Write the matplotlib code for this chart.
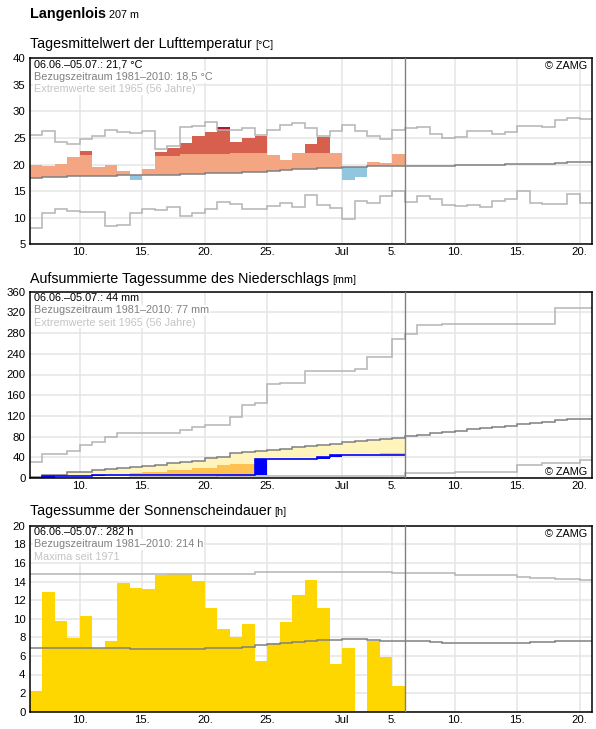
import numpy as np
import matplotlib
matplotlib.use("Agg")
import matplotlib.pyplot as plt

plt.rcParams['font.family'] = ['Liberation Sans', 'DejaVu Sans']

W, H = 596, 729

# days counted from 1 June (31 = 1 July)
days_obs = np.arange(6, 36)     # 06.06. - 05.07.
days_all = np.arange(6, 51)     # 06.06. - 20.07.
tick_days = [10, 15, 20, 25, 31, 35, 40, 45, 50]
tick_labels = ['10.', '15.', '20.', '25.', 'Jul', '5.', '10.', '15.', '20.']
today = 36

# --- temperature (degC)
temp_obs = [19.9, 19.7, 20.1, 21.5, 22.6, 19.6, 19.9, 18.75, 17.1, 19.1,
            22.3, 23.1, 24.06, 25.4, 26.1, 27.07, 24.25, 25.0, 25.4, 21.86,
            20.9, 22.18, 23.9, 25.2, 22.1, 17.1, 17.7, 20.5, 20.24, 21.9]
temp_upper = [21.4, 21.5, 21.5, 21.6, 21.8, 21.7, 21.6, 21.6, 21.6, 21.6,
              21.6, 21.6, 21.9, 21.9, 21.9, 21.9, 22.1, 22.1, 22.1, 22.2,
              22.2, 22.2, 22.2, 22.2, 22.3, 22.3, 22.4, 22.4, 22.5, 22.5]
temp_mean = [17.5, 17.6, 17.7, 17.8, 17.85, 17.9, 17.9, 17.95, 17.95, 18.0,
             18.0, 18.0, 18.15, 18.2, 18.35, 18.35, 18.4, 18.55, 18.65, 18.8,
             18.9, 19.1, 19.25, 19.35, 19.45, 19.55, 19.6, 19.65, 19.7, 19.7,
             19.75, 19.75, 19.8, 19.8, 19.85, 19.9, 19.95, 20.0, 20.05, 20.1,
             20.2, 20.2, 20.3, 20.4, 20.4]
temp_max = [25.5, 26.4, 24.25, 23.8, 24.75, 25.3, 26.6, 26.1, 25.9, 26.3,
            22.9, 23.5, 27.0, 27.2, 28.1, 26.6, 26.5, 26.9, 25.5, 26.6,
            27.5, 27.8, 26.9, 25.4, 26.4, 27.5, 26.3, 25.4, 24.8, 26.6,
            26.8, 27.1, 25.7, 25.0, 25.1, 26.4, 26.4, 25.7, 26.1, 27.2,
            27.2, 27.0, 28.3, 28.7, 28.5]
temp_min = [8.0, 10.8, 11.7, 11.2, 11.0, 11.0, 8.4, 8.7, 10.8, 11.6,
            11.4, 12.1, 10.4, 10.8, 11.6, 12.9, 12.5, 11.6, 11.6, 12.3,
            12.7, 12.0, 14.2, 12.4, 11.8, 9.7, 13.2, 12.7, 14.1, 15.0,
            12.9, 14.0, 13.5, 12.4, 12.3, 12.4, 12.1, 13.2, 13.6, 15.0,
            12.8, 12.5, 12.5, 14.4, 12.7]

# --- precipitation, accumulated (mm)
prec_obs = [0.5, 3, 3, 3, 3, 5, 6.5, 6.5, 6.5, 6.5,
            6.5, 6.5, 6.5, 6.5, 6.5, 6.5, 6.5, 6.5, 36.5, 36.5,
            36.5, 36.5, 36.5, 40.3, 44, 44, 44, 44, 44, 44]
prec_low = [0.3, 1, 1.5, 2, 2.5, 3, 4, 5, 10, 12,
            12.5, 15, 15.5, 18.5, 20, 24.7, 27.3, 27.3, 29, 30,
            31, 33, 35, 37, 38, 40, 42, 43, 48, 48]
prec_mean = [1.5, 6.5, 6.5, 11, 11, 15, 17, 19.5, 21.5, 24,
             26, 28.5, 30.5, 33, 37.7, 40.3, 47.4, 50.6, 52.6, 54.5,
             56.5, 59, 62, 64, 66.5, 69, 71.5, 74, 76, 77.5,
             81.3, 83.9, 86.5, 89.1, 91.7, 94.3, 96.3, 98.9, 100.8, 103.4,
             106, 108.6, 111.2, 113.2, 114.5]
prec_max = [31, 46.8, 46.8, 52.7, 63, 68.9, 78.7, 86.5, 86.5, 86.5,
            86.5, 86.5, 93.7, 98.9, 102.8, 102.8, 118.4, 140.5, 145, 180.8,
            184, 184, 206.8, 206.8, 206.8, 206.8, 210.7, 234, 234, 269,
            279, 295, 295, 297, 297, 297, 297, 297, 297, 297,
            297, 297, 328, 328, 328]
prec_min = [0, 0, 0, 0, 0, 0, 0, 0, 1.3, 1.3,
            1.3, 1.3, 1.3, 1.3, 1.3, 3, 3, 3, 3, 3,
            3, 3, 3, 3, 3, 3, 3, 3, 3, 3,
            9.8, 9.8, 9.8, 9.8, 11.7, 11.7, 11.7, 11.7, 11.7, 26,
            26, 29, 29, 29, 35]

# --- sunshine duration (h)
sun_obs = [2.2, 12.9, 9.8, 7.96, 10.25, 6.9, 7.57, 13.8, 13.25, 13.14,
           14.7, 14.8, 14.8, 14.1, 11.2, 8.86, 8.0, 9.4, 5.4, 7.4,
           9.6, 12.6, 14.2, 11.2, 5.1, 6.8, 0, 7.57, 5.9, 2.8]
sun_mean = [6.9, 6.9, 6.9, 6.9, 6.9, 6.9, 6.8, 6.8, 6.7, 6.7,
            6.7, 6.7, 6.7, 6.7, 6.8, 6.8, 6.9, 7.0, 7.15, 7.3,
            7.4, 7.5, 7.6, 7.7, 7.75, 7.8, 7.8, 7.7, 7.65, 7.6,
            7.6, 7.6, 7.45, 7.35, 7.35, 7.35, 7.35, 7.35, 7.35, 7.35,
            7.5, 7.5, 7.6, 7.6, 7.6]
sun_max = [14.8] * 18 + [15.0] * 11 + [14.9] * 5 + [14.75] * 3 + \
          [14.65] * 2 + [14.5] + [14.4] * 2 + [14.3] * 2 + [14.2]

edges_obs = np.append(days_obs, days_obs[-1] + 1)
edges_all = np.append(days_all, days_all[-1] + 1)

GRID = '#e5e5e5'
MEAN_C = '#808080'
EXT_C = '#b4b4b4'
TXT_GRAY = '#808080'
TXT_LIGHT = '#c4c4c4'
FS = 7.8

fig = plt.figure(figsize=(W / 100, H / 100), dpi=100)


def px_axes(left, top, right, bottom):
    return fig.add_axes([left / W, 1 - bottom / H, (right - left) / W, (bottom - top) / H])


def style(ax, ylim, yticks):
    ax.set_xlim(edges_all[0], edges_all[-1])
    ax.set_ylim(*ylim)
    ax.set_xticks(tick_days)
    ax.set_xticklabels(tick_labels)
    ax.set_yticks(yticks)
    ax.grid(True, color=GRID, lw=1.1)
    ax.set_axisbelow(True)
    ax.tick_params(length=0, labelsize=8.2, pad=2.2)
    ax.tick_params(axis='y', pad=3.2)
    for s in ax.spines.values():
        s.set_color('black')
        s.set_linewidth(1.1)
    ax.axvline(today, color=MEAN_C, lw=1.0, zorder=4)


def legend(ax, lines):
    for i, (txt, col) in enumerate(lines):
        ax.annotate(txt, xy=(0, 1), xycoords='axes fraction',
                    xytext=(4, -9.5 - 12.2 * i), textcoords='offset pixels',
                    fontsize=FS, color=col, va='baseline', ha='left',
                    bbox=dict(fc='white', ec='none', pad=0.5), zorder=6)


def zamg(ax, top=True):
    if top:
        ax.annotate('© ZAMG', xy=(1, 1), xycoords='axes fraction', xytext=(-5, -11),
                    textcoords='offset pixels', fontsize=FS, ha='right', va='baseline', zorder=6)
    else:
        ax.annotate('© ZAMG', xy=(1, 0), xycoords='axes fraction', xytext=(-5, 3),
                    textcoords='offset pixels', fontsize=FS, ha='right', va='baseline', zorder=6)


# ---------------- temperature
ax1 = px_axes(30, 58.3, 592.3, 244.3)
style(ax1, (5, 40), np.arange(5, 41, 5))
t_obs = np.array(temp_obs)
t_up = np.array(temp_upper)
t_mean30 = np.array(temp_mean[:30])
t_max30 = np.array(temp_max[:30])
ax1.stairs(np.clip(t_obs, t_mean30, t_up), edges_obs, baseline=t_mean30,
           fill=True, color='#f4a582', lw=0, zorder=1.5)
ax1.stairs(np.maximum(np.minimum(t_obs, t_max30), t_up), edges_obs, baseline=t_up,
           fill=True, color='#d6604d', lw=0, zorder=1.5)
ax1.stairs(np.maximum(t_obs, t_max30), edges_obs, baseline=t_max30,
           fill=True, color='#b2182b', lw=0, zorder=1.5)
ax1.stairs(t_mean30, edges_obs, baseline=np.minimum(t_obs, t_mean30),
           fill=True, color='#92c5de', lw=0, zorder=1.5)
ax1.stairs(temp_max, edges_all, baseline=None, color=EXT_C, lw=1.1, zorder=2)
ax1.stairs(temp_min, edges_all, baseline=None, color=EXT_C, lw=1.1, zorder=2)
ax1.stairs(temp_mean, edges_all, baseline=None, color=MEAN_C, lw=1.1, zorder=2.2)
legend(ax1, [('06.06.–05.07.: 21,7 °C', 'black'),
             ('Bezugszeitraum 1981–2010: 18,5 °C', TXT_GRAY),
             ('Extremwerte seit 1965 (56 Jahre)', TXT_LIGHT)])
zamg(ax1)

# ---------------- precipitation
ax2 = px_axes(30, 291.7, 592.3, 478.0)
style(ax2, (0, 360), np.arange(0, 361, 40))
p_obs = np.array(prec_obs, dtype=float)
p_mean30 = np.array(prec_mean[:30])
p_low = np.array(prec_low)
p_prev = np.concatenate([[0.0], p_obs[:-1]])
ax2.stairs(np.maximum(p_mean30, p_obs), edges_obs, baseline=p_obs,
           fill=True, color='#fff4bb', lw=0, zorder=1.5)
ax2.stairs(np.maximum(p_low, p_obs), edges_obs, baseline=p_obs,
           fill=True, color='#ffc14f', lw=0, zorder=1.6)
ax2.stairs(prec_max, edges_all, baseline=None, color=EXT_C, lw=1.1, zorder=2)
ax2.stairs(prec_min, edges_all, baseline=None, color=EXT_C, lw=1.1, zorder=2)
ax2.stairs(prec_mean, edges_all, baseline=None, color=MEAN_C, lw=1.1, zorder=2.2)
ax2.stairs(p_obs, edges_obs, baseline=p_prev, fill=True, color='#0000ff', lw=0, zorder=2.5)
ax2.stairs(p_obs, edges_obs, baseline=None, color='#0000ff', lw=1.2, zorder=2.5)
legend(ax2, [('06.06.–05.07.: 44 mm', 'black'),
             ('Bezugszeitraum 1981–2010: 77 mm', TXT_GRAY),
             ('Extremwerte seit 1965 (56 Jahre)', TXT_LIGHT)])
zamg(ax2, top=False)

# ---------------- sunshine
ax3 = px_axes(30, 525.7, 592.3, 711.7)
style(ax3, (0, 20), np.arange(0, 21, 2))
ax3.stairs(sun_obs, edges_obs, baseline=0, fill=True, color='#ffd700', lw=0, zorder=1.5)
ax3.stairs(sun_max, edges_all, baseline=None, color=EXT_C, lw=1.1, zorder=2)
ax3.stairs(sun_mean, edges_all, baseline=None, color=MEAN_C, lw=1.1, zorder=2.2)
legend(ax3, [('06.06.–05.07.: 282 h', 'black'),
             ('Bezugszeitraum 1981–2010: 214 h', TXT_GRAY),
             ('Maxima seit 1971', TXT_LIGHT)])
zamg(ax3)

# ---------------- headings
head = fig.text(30 / W, 1 - 18.3 / H, 'Langenlois', fontsize=10.4,
                fontweight='bold', va='baseline')
titles = [
    (47.7, 'Tagesmittelwert der Lufttemperatur', '[°C]'),
    (282.7, 'Aufsummierte Tagessumme des Niederschlags', '[mm]'),
    (515.4, 'Tagessumme der Sonnenscheindauer', '[h]'),
]
title_artists = []
for y, txt, unit in titles:
    t = fig.text(30 / W, 1 - y / H, txt, fontsize=10.3, va='baseline')
    title_artists.append((t, y, unit))

fig.canvas.draw()
r = fig.canvas.get_renderer()
bb = head.get_window_extent(r)
fig.text((bb.x1 + 3) / W, 1 - 18.3 / H, '207 m', fontsize=7.8, va='baseline')
for t, y, unit in title_artists:
    bb = t.get_window_extent(r)
    fig.text((bb.x1 + 3) / W, 1 - y / H, unit, fontsize=7.8, va='baseline')

fig.savefig('out.png', dpi=100)
